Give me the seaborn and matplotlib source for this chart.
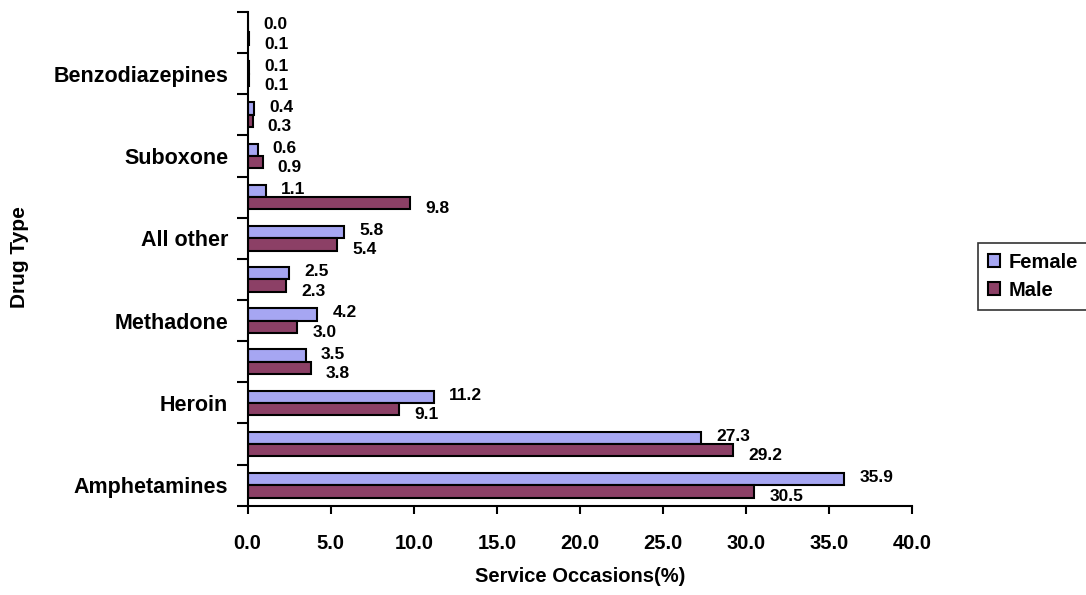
import pandas as pd
import seaborn as sns
import matplotlib.pyplot as plt
from matplotlib.ticker import FixedLocator

# Drug types, listed top to bottom as in the chart
drugs = ["Other (a)", "Benzodiazepines", "Other (b)", "Suboxone", "Other (c)",
         "All other", "Other (d)", "Methadone", "Other (e)", "Heroin",
         "Other (f)", "Amphetamines"]
tick_labels = ["", "Benzodiazepines", "", "Suboxone", "", "All other", "",
               "Methadone", "", "Heroin", "", "Amphetamines"]

female = [0.0, 0.1, 0.4, 0.6, 1.1, 5.8, 2.5, 4.2, 3.5, 11.2, 27.3, 35.9]
male = [0.1, 0.1, 0.3, 0.9, 9.8, 5.4, 2.3, 3.0, 3.8, 9.1, 29.2, 30.5]

x_ticks = [0, 5, 10, 15, 20, 25, 30, 35, 40]

df = pd.DataFrame({
    "Drug": drugs * 2,
    "Sex": ["Female"] * len(drugs) + ["Male"] * len(drugs),
    "Pct": female + male,
})

sns.set_style("white")
plt.rcParams["font.family"] = ["Liberation Sans", "DejaVu Sans"]
plt.rcParams["font.weight"] = "bold"
for k in ["text.color", "axes.labelcolor", "xtick.color", "ytick.color"]:
    plt.rcParams[k] = "black"

fig = plt.figure(figsize=(10.86, 5.95), dpi=100)
ax = fig.add_axes([0.228, 0.150, 0.612, 0.830])

sns.barplot(data=df, y="Drug", x="Pct", hue="Sex", order=drugs,
            hue_order=["Female", "Male"],
            palette={"Female": "#9999FF", "Male": "#993366"},
            orient="h", width=0.6, gap=0, edgecolor="black", linewidth=1.5,
            errorbar=None, ax=ax)

# value labels: female a bit above, male a bit below
for cont, dy in zip(ax.containers, [1, -4]):
    for bar, v in zip(cont, cont.datavalues):
        ax.annotate(f"{v:.1f}", (bar.get_width(), bar.get_y() + bar.get_height() / 2),
                    xytext=(11, dy), textcoords="offset points",
                    va="center", ha="left", fontsize=12.5, fontweight="bold")

ax.set_xlim(0, 40)
ax.set_ylim(len(drugs) - 0.5, -0.5)
ax.set_xticks(x_ticks)
ax.set_xticklabels([f"{t:.1f}" for t in x_ticks], fontsize=14.5, fontweight="bold")
ax.set_yticks(range(len(drugs)))
ax.set_yticklabels(tick_labels, fontsize=15.5, fontweight="bold")
ax.yaxis.set_minor_locator(FixedLocator([i - 0.5 for i in range(len(drugs) + 1)]))
ax.tick_params(axis="y", which="major", length=0, pad=14)
ax.tick_params(axis="y", which="minor", length=8, width=1.5, direction="out", left=True)
ax.tick_params(axis="x", which="major", length=6, width=1.5, direction="out",
               bottom=True, pad=14)

for side in ["top", "right"]:
    ax.spines[side].set_visible(False)
for side in ["left", "bottom"]:
    ax.spines[side].set_color("black")
    ax.spines[side].set_linewidth(1.5)

ax.set_xlabel("")
ax.set_ylabel("")
fig.text(580 / 1086, 1 - 577 / 595, "Service Occasions(%)", ha="center", va="center",
         fontsize=14.5, fontweight="bold")
fig.text(20 / 1086, 1 - 257 / 595, "Drug Type", ha="center", va="center",
         rotation=90, fontsize=15, fontweight="bold")

ax.legend_.remove()
handles, labels = ax.get_legend_handles_labels()
leg = fig.legend(handles, labels, loc="upper left", bbox_to_anchor=(0.9006, 0.592),
                 prop={"weight": "bold", "size": 14.5}, frameon=True, fancybox=False,
                 handlelength=0.6, handleheight=0.6, handletextpad=0.4,
                 borderaxespad=0, labelspacing=0.45, borderpad=0.5)
leg.get_frame().set_edgecolor("black")
leg.get_frame().set_linewidth(1.2)

fig.savefig("out.png", dpi=100)
